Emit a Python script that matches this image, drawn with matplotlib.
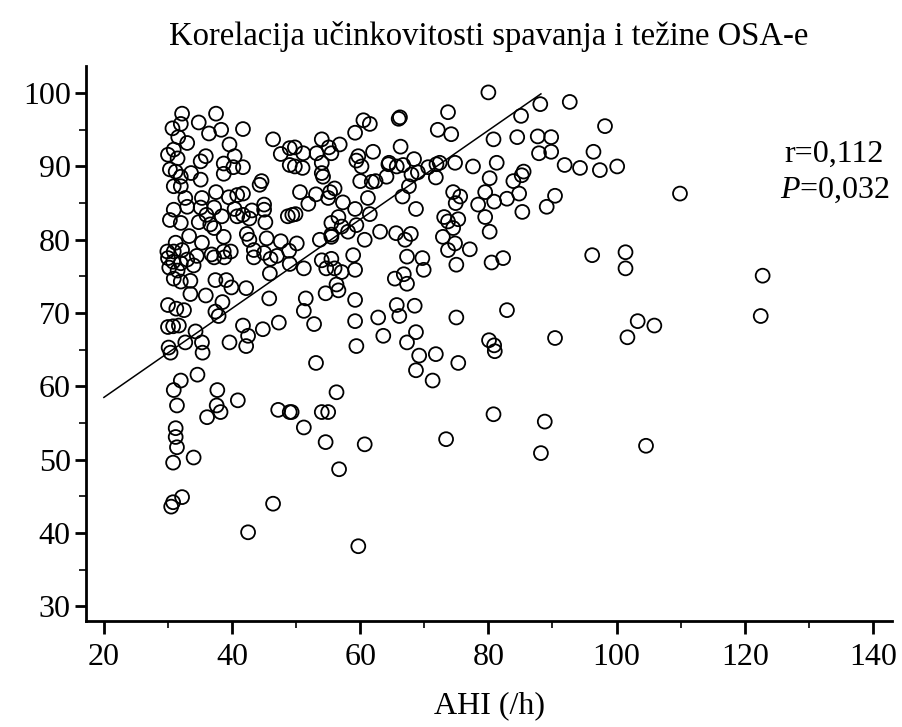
import matplotlib
matplotlib.use("Agg")
import matplotlib.pyplot as plt
from matplotlib.ticker import MultipleLocator

plt.rcParams['font.family'] = ['Liberation Serif', 'DejaVu Serif']
plt.rcParams['mathtext.fontset'] = 'custom'
plt.rcParams['mathtext.rm'] = 'Liberation Serif'
plt.rcParams['mathtext.it'] = 'Liberation Serif:italic'

# AHI (/h) vs sleep efficiency (%)
ahi = [
    32.2, 37.5, 34.8, 30.7, 32.0, 36.4, 38.3, 41.7, 31.6, 33.0, 39.6, 46.4, 30.0, 30.9, 31.5, 35.9,
    35.1, 40.4, 38.7, 40.2, 41.7, 38.7, 47.6, 49.0, 49.0, 30.3, 31.2, 32.0, 33.6, 35.1, 32.0, 30.9,
    44.6, 44.3, 32.7, 35.3, 37.5, 39.5, 41.7, 40.8, 30.9, 33.0, 35.1, 37.2, 36.0, 38.4, 40.4, 41.7,
    43.1, 45.0, 45.0, 42.7, 30.3, 32.0, 34.8, 36.6, 37.2, 38.7, 40.8, 45.2, 48.7, 49.4, 42.3, 42.7,
    45.4, 47.6, 33.3, 35.3, 31.2, 29.9, 30.9, 32.2, 38.7, 39.8, 43.4, 45.0, 48.9, 34.5, 36.8,
    80.0, 73.7, 60.5, 61.5, 66.2, 66.0, 59.2, 72.1, 74.2, 80.8, 54.0, 49.8, 51.1, 53.2, 55.1, 55.5,
    56.8, 62.0, 66.3, 59.7, 59.4, 60.2, 49.8, 51.0, 54.0, 54.2, 54.0, 64.5, 64.4, 65.7, 66.7, 68.4,
    70.6, 71.9, 72.4, 74.8, 77.6, 81.3, 60.0, 61.8, 62.4, 64.1, 68.0, 69.0, 71.8, 80.2, 50.6, 53.1,
    55.3, 56.0, 55.0, 57.3, 51.9, 61.2, 67.6, 66.6, 74.5, 75.6, 74.9, 79.5, 78.4, 80.9, 79.5, 80.2,
    59.2, 61.5, 68.7, 49.9, 56.6, 55.5, 57.1, 59.4, 58.1, 55.5, 73.1, 73.7, 75.3, 74.5, 72.9, 74.8,
    73.7, 63.1, 65.6, 67.9, 67.0, 60.7, 53.7, 55.5, 50.1, 77.1,
    88.1, 92.7, 85.1, 98.2, 84.5, 87.7, 89.8, 87.9, 89.8, 96.4, 91.9, 94.3, 97.4, 100.1, 85.5, 85.2,
    83.9, 84.8, 82.9, 90.4, 89.1, 85.3, 109.9, 82.3, 96.2, 101.4,
    101.4, 82.9, 90.4, 103.3, 105.9, 101.7, 88.8, 104.6, 88.2, 122.8, 122.5,
    32.0, 34.0, 30.9, 32.0, 33.5, 33.5, 35.9, 37.4, 39.1, 39.9, 42.2, 45.9, 45.8, 49.0, 30.0, 31.3,
    32.5, 30.0, 30.8, 31.7, 38.5, 37.4, 37.9, 34.3, 32.7, 35.3, 35.4, 30.1, 30.4, 39.6, 41.7, 42.5,
    42.2, 44.8, 47.3, 34.6, 32.0, 30.9, 31.4, 37.7, 37.6, 38.2, 36.1, 40.9, 47.2, 49.0, 31.2, 31.2,
    30.0, 30.8, 33.0, 37.2, 38.8, 43.4, 46.0, 47.0, 30.2, 31.5,
    31.4, 30.8, 34.0, 30.8, 30.5, 32.2, 42.5, 46.4,
    51.2, 54.0, 55.5, 54.7, 56.0, 57.1, 59.2, 58.9, 56.3, 56.6, 54.6, 51.5, 51.2, 52.8, 59.2, 59.2,
    59.4, 53.1, 62.8, 63.6, 65.7, 66.1, 68.5, 68.7, 67.3, 69.2, 71.8, 68.7, 71.3, 75.0, 75.3, 65.4,
    66.8, 67.3, 69.9, 69.7, 67.3, 75.0, 80.5, 80.1, 80.9, 81.0, 56.3, 49.3, 54.0, 55.0, 51.2, 54.6,
    60.7, 73.4, 80.8, 56.7, 59.7,
]
efficiency = [
    97.2, 97.2, 96.0, 95.2, 95.8, 94.5, 95.0, 95.1, 94.0, 93.2, 93.0, 93.7, 91.6, 92.3, 91.1, 91.4,
    90.7, 91.4, 90.4, 89.9, 89.9, 89.0, 91.7, 92.5, 90.2, 89.6, 89.3, 88.6, 89.1, 88.2, 87.3, 87.3,
    88.0, 87.5, 85.7, 85.7, 86.5, 85.8, 86.3, 86.1, 84.1, 84.5, 84.4, 84.4, 83.4, 83.2, 84.2, 83.4,
    84.0, 84.8, 84.1, 82.9, 82.7, 82.3, 82.4, 82.1, 81.6, 80.4, 83.2, 82.4, 83.2, 83.4, 80.8, 80.0,
    80.2, 79.8, 80.5, 79.6, 79.6, 78.4, 78.4, 78.6, 78.4, 78.4, 78.6, 78.2, 78.5, 77.8, 78.0,
    100.1, 97.4, 96.3, 95.8, 96.7, 96.5, 94.6, 95.0, 94.4, 93.7, 93.7, 92.6, 91.8, 91.8, 92.6, 91.8,
    93.0, 92.0, 92.7, 91.4, 90.8, 90.0, 90.0, 89.8, 90.5, 88.6, 89.1, 90.5, 90.3, 90.0, 90.2, 91.0,
    89.9, 90.3, 90.5, 90.5, 90.0, 90.5, 88.0, 87.9, 88.0, 88.6, 88.9, 89.2, 88.5, 88.4, 86.5, 86.2,
    86.5, 87.0, 85.7, 85.1, 84.9, 85.7, 87.3, 85.9, 86.5, 85.9, 85.0, 86.5, 84.8, 85.2, 83.1, 81.1,
    84.2, 83.5, 84.2, 83.5, 83.1, 82.3, 81.8, 82.0, 81.1, 80.7, 83.1, 82.5, 82.8, 81.6, 80.4, 79.5,
    78.6, 81.1, 80.9, 80.8, 80.0, 80.0, 80.0, 80.4, 79.5, 78.7,
    98.5, 98.8, 96.9, 95.5, 94.0, 94.1, 94.0, 91.8, 92.0, 92.0, 90.2, 89.8, 89.5, 90.0, 89.3, 88.8,
    88.0, 86.3, 85.6, 86.0, 84.5, 83.8, 86.3, 77.5, 77.9, 78.3,
    76.1, 70.4, 66.6, 68.9, 68.3, 66.7, 55.2, 51.9, 50.9, 75.1, 69.6,
    76.8, 76.5, 74.7, 74.3, 74.4, 72.6, 72.4, 74.5, 74.5, 73.5, 73.4, 75.4, 72.0, 76.7, 71.1, 70.6,
    70.4, 68.1, 68.2, 68.3, 71.5, 70.2, 69.6, 67.5, 66.0, 66.0, 64.6, 65.3, 64.6, 66.0, 68.3, 66.9,
    65.5, 67.8, 68.7, 61.6, 60.8, 59.5, 57.4, 59.5, 57.4, 56.5, 55.8, 58.1, 56.8, 56.5, 54.3, 53.1,
    77.5, 77.0, 77.3, 77.6, 77.6, 77.6, 77.4, 77.8, 76.2, 75.8,
    51.7, 49.6, 50.3, 44.2, 43.6, 44.9, 40.1, 44.0,
    76.1, 77.2, 77.4, 76.1, 76.1, 75.6, 75.9, 77.9, 73.9, 73.1, 72.7, 72.0, 70.3, 68.5, 71.8, 68.9,
    65.5, 63.2, 69.4, 66.9, 71.1, 69.6, 71.0, 67.4, 66.0, 64.2, 64.4, 62.2, 60.8, 69.4, 63.2, 74.7,
    75.3, 74.0, 75.9, 77.5, 77.7, 76.6, 76.9, 66.3, 65.6, 64.8, 59.2, 56.5, 56.5, 56.5, 54.4, 52.4,
    52.1, 52.8, 56.2, 48.7, 38.2,
]

# regression line end points
fit_x = [20.0, 88.2]
fit_y = [58.5, 99.9]

r_text = "r=0,112"
p_text = "$P$=0,032"

fig = plt.figure(figsize=(9.02, 7.27), dpi=100)
ax = fig.add_axes([0.0953, 0.1458, 0.8937, 0.7634])

ax.plot(fit_x, fit_y, color='black', lw=1.1, zorder=2)
ax.scatter(ahi, efficiency, s=100, facecolors='none', edgecolors='black',
           linewidths=1.3, zorder=3)

ax.set_xlim(17.2, 143.0)
ax.set_ylim(28.0, 103.7)

ax.xaxis.set_major_locator(MultipleLocator(20))
ax.xaxis.set_minor_locator(MultipleLocator(10))
ax.yaxis.set_major_locator(MultipleLocator(10))
ax.yaxis.set_minor_locator(MultipleLocator(5))

for side in ['top', 'right']:
    ax.spines[side].set_visible(False)
for side in ['left', 'bottom']:
    ax.spines[side].set_linewidth(2.0)

ax.tick_params(which='major', direction='out', length=9, width=2.0, labelsize=23, pad=7)
ax.tick_params(which='minor', direction='out', length=5, width=1.2)
ax.tick_params(axis='y', which='major', length=8, pad=3)

ax.set_xlabel("AHI (/h)", fontsize=23, labelpad=14)
ax.set_title("Korelacija učinkovitosti spavanja i težine OSA-e", fontsize=23.5, pad=15)

ax.text(141.7, 91.7, r_text, ha='right', va='center', fontsize=23)
ax.text(142.7, 86.8, p_text, ha='right', va='center', fontsize=23)

fig.savefig("out.png", dpi=100)
